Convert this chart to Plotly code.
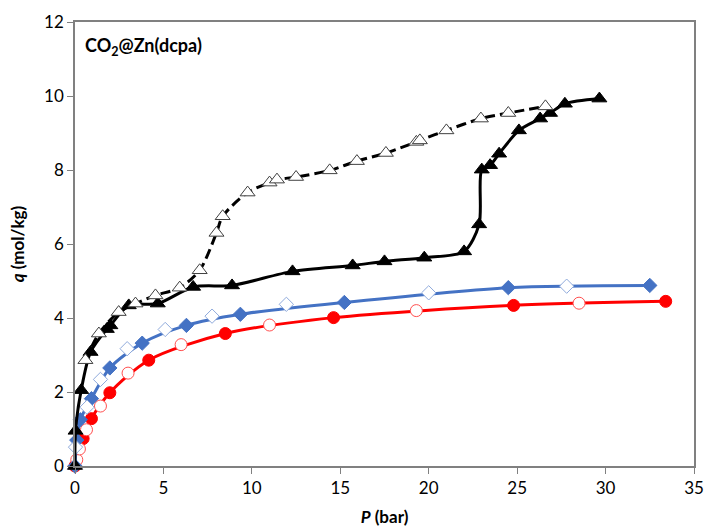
import plotly.graph_objects as go

# Red: adsorption (filled) / desorption (open)
red_ads_P = [0, 0.46, 0.93, 1.97, 4.17, 8.5, 14.62, 24.8, 33.4]
red_ads_q = [0, 0.74, 1.28, 1.98, 2.86, 3.58, 4.01, 4.34, 4.45]
red_des_P = [0.1, 0.25, 0.65, 1.44, 3.0, 6.0, 11.0, 19.3, 28.5]
red_des_q = [0.17, 0.46, 0.98, 1.62, 2.51, 3.28, 3.81, 4.20, 4.40]

# Blue
blue_ads_P = [0, 0.1, 0.3, 0.93, 1.97, 3.8, 6.3, 9.35, 15.23, 24.5, 32.5]
blue_ads_q = [0, 0.7, 1.25, 1.82, 2.65, 3.32, 3.80, 4.10, 4.42, 4.82, 4.88]
blue_des_P = [0.03, 0.68, 1.44, 2.95, 5.1, 7.75, 11.95, 20.0, 27.8]
blue_des_q = [0.51, 1.59, 2.34, 3.17, 3.69, 4.05, 4.37, 4.68, 4.86]

# Black
blk_ads_P = [0, 0.03, 0.35, 0.88, 1.8, 2.0, 3.04, 4.68, 6.68, 8.88, 12.3, 15.7, 17.5,
             19.75, 22.0, 22.85, 23.0, 23.47, 23.98, 25.1, 26.3, 26.86, 27.7, 29.65]
blk_ads_q = [0, 0.95, 2.05, 3.08, 3.7, 3.8, 4.34, 4.39, 4.84, 4.88, 5.26, 5.42, 5.53,
             5.63, 5.80, 6.53, 8.01, 8.13, 8.44, 9.07, 9.39, 9.54, 9.79, 9.93]
blk_des_P = [0.59, 1.35, 2.47, 3.42, 4.55, 5.92, 7.05, 8.0, 8.35, 9.76, 11.0, 11.42, 12.5,
             14.4, 15.94, 17.58, 19.3, 19.5, 21.0, 22.95, 24.5, 26.6]
blk_des_q = [2.86, 3.58, 4.16, 4.39, 4.61, 4.82, 5.29, 6.3, 6.75, 7.39, 7.66, 7.74, 7.81,
             7.99, 8.24, 8.46, 8.76, 8.8, 9.07, 9.39, 9.54, 9.72]

x_ticks = [0, 5, 10, 15, 20, 25, 30, 35]
y_ticks = [0, 2, 4, 6, 8, 10, 12]

fig = go.Figure()


def line(P, q, color, dash="solid", lw=3):
    fig.add_trace(go.Scatter(
        x=P, y=q, mode="lines",
        line=dict(color=color, width=lw, dash=dash, shape="spline", smoothing=0.8),
        showlegend=False, hoverinfo="skip"))


def marks(P, q, symbol, size, fill, outline):
    fig.add_trace(go.Scatter(
        x=P, y=q, mode="markers",
        marker=dict(symbol=symbol, size=size, color=fill,
                    line=dict(color=outline, width=1)),
        showlegend=False, cliponaxis=False))


line(red_ads_P, red_ads_q, "#FF0000")
marks(red_ads_P, red_ads_q, "circle", 12, "#FF0000", "#FF0000")
marks(red_des_P, red_des_q, "circle", 12, "white", "#FF5050")

line(blue_ads_P, blue_ads_q, "#4472C4")
marks(blue_ads_P, blue_ads_q, "diamond", 11, "#4472C4", "#4472C4")
marks(blue_des_P, blue_des_q, "diamond", 11, "white", "#8FAADC")

line(blk_ads_P, blk_ads_q, "black")
marks(blk_ads_P, blk_ads_q, "triangle-up", 13, "black", "black")
line(blk_des_P, blk_des_q, "black", dash="10px,5px")
marks(blk_des_P, blk_des_q, "triangle-up", 13, "white", "#404040")

axis_common = dict(showline=True, linecolor="#808080", linewidth=1.5, mirror=True,
                   ticks="outside", ticklen=6, tickcolor="#808080", showgrid=False,
                   zeroline=False, automargin=False,
                   tickfont=dict(family="Lato", size=17, color="black"))

fig.update_layout(
    width=705, height=532,
    margin=dict(l=74.5, r=11, t=22, b=66),
    plot_bgcolor="white", paper_bgcolor="white",
    xaxis=dict(range=[0, 35], tickvals=x_ticks, **axis_common,
               title=dict(text="<b><i>P</i> (bar)</b>", font=dict(family="Lato", size=17, color="black"),
                          standoff=14)),
    yaxis=dict(range=[0, 12], tickvals=y_ticks, **axis_common,
               title=dict(text="<b><i>q</i> (mol/kg)</b>", font=dict(family="Lato", size=17, color="black"),
                          standoff=15)),
    annotations=[dict(text="<b>CO<sub>2</sub>@Zn(dcpa)</b>", xref="paper", yref="paper",
                      x=0.013, y=0.944, xanchor="left", yanchor="middle", showarrow=False,
                      font=dict(family="Lato", size=18, color="black"))]
)

fig.write_html("out.html")
